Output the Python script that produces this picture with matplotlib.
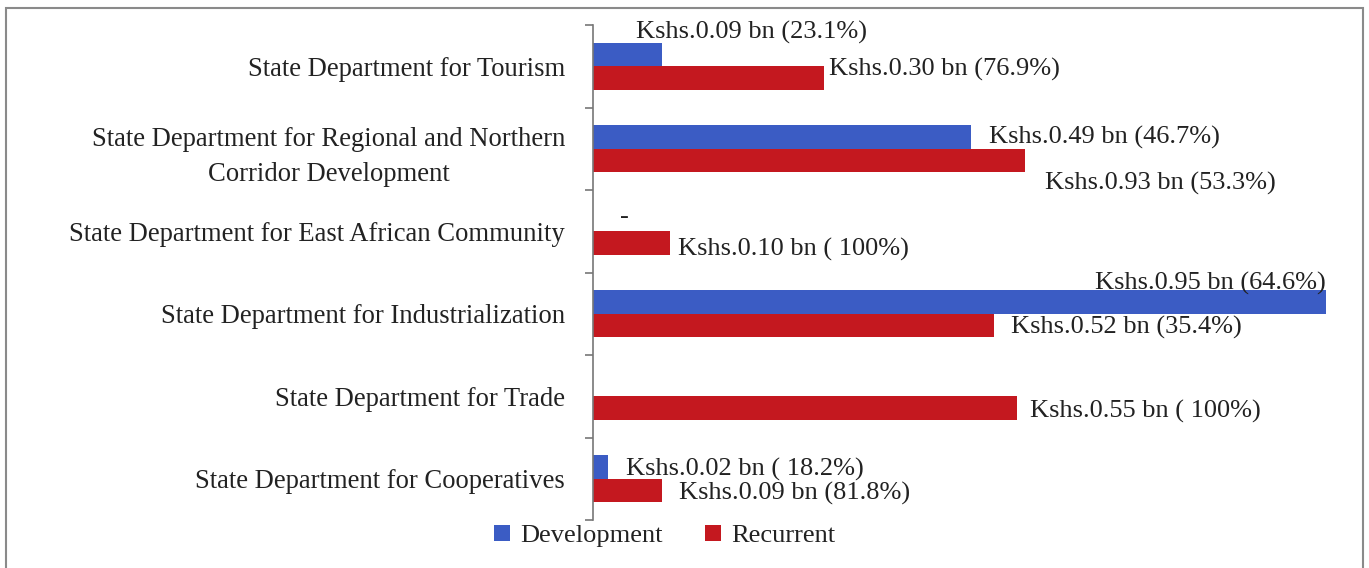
import matplotlib.pyplot as plt
import numpy as np
from matplotlib.patches import Rectangle

departments = [
    "State Department for Tourism",
    "State Department for Regional and Northern\nCorridor Development",
    "State Department for East African Community",
    "State Department for Industrialization",
    "State Department for Trade",
    "State Department for Cooperatives",
]
development = [0.09, 0.49, 0.0, 0.95, 0.0, 0.02]
recurrent = [0.30, 0.56, 0.10, 0.52, 0.55, 0.09]
dev_labels = ["Kshs.0.09 bn (23.1%)", "Kshs.0.49 bn (46.7%)", "-",
              "Kshs.0.95 bn (64.6%)", "", "Kshs.0.02 bn ( 18.2%)"]
rec_labels = ["Kshs.0.30 bn (76.9%)", "Kshs.0.93 bn (53.3%)", "Kshs.0.10 bn ( 100%)",
              "Kshs.0.52 bn (35.4%)", "Kshs.0.55 bn ( 100%)", "Kshs.0.09 bn (81.8%)"]

# label offsets in pixels (dx, dy) from bar end / bar centre
dev_off = [(-26, 22), (18, 0), (27, 2), (0, 19), (0, 0), (18, -2)]
rec_off = [(5, 9), (20, -23), (8, -6), (17, -2), (13, -3), (17, -3)]

blue = "#3b5cc4"
red = "#c4181f"
txt = "#222222"
font = "Liberation Serif"

fig = plt.figure(figsize=(13.69, 5.68), dpi=100)
fig.patches.append(Rectangle((6 / 1369, -0.1), 1357 / 1369, 1.1 - 8 / 568,
                             transform=fig.transFigure, fill=False,
                             edgecolor="#8a8a8a", linewidth=1.5))
ax = fig.add_axes([593 / 1369, 1 - 520 / 568, 771.6 / 1369, 495 / 568])

y = np.arange(len(departments))
h = 0.285
ax.barh(y - h / 2, development, height=h, color=blue, label="Development")
ax.barh(y + h / 2, recurrent, height=h, color=red, label="Recurrent")

ax.set_xlim(0, 1.0)
ax.set_ylim(len(departments) - 0.5, -0.5)
ax.set_yticks(y)
ax.set_yticklabels(departments, fontsize=19.2, family=font, color=txt,
                   multialignment="center", linespacing=1.55)
ax.set_yticks(np.arange(len(departments) + 1) - 0.5, minor=True)
ax.tick_params(axis="y", which="major", length=0, pad=20)
ax.tick_params(axis="y", which="minor", length=6, color="#777777", width=1.2)
ax.set_xticks([])
for s in ["top", "right", "bottom"]:
    ax.spines[s].set_visible(False)
ax.spines["left"].set_color("#777777")
ax.spines["left"].set_linewidth(1.2)

for i in range(len(departments)):
    if dev_labels[i]:
        dx, dy = dev_off[i]
        ha = "right" if i == 3 else "left"
        ax.annotate(dev_labels[i], (development[i], y[i] - h / 2),
                    xytext=(dx * 0.72, dy * 0.72), textcoords="offset points",
                    ha=ha, va="center", fontsize=19, family=font, color=txt)
    dx, dy = rec_off[i]
    ax.annotate(rec_labels[i], (recurrent[i], y[i] + h / 2),
                xytext=(dx * 0.72, dy * 0.72), textcoords="offset points",
                ha="left", va="center", fontsize=19, family=font, color=txt)

fig.legend(loc="center", bbox_to_anchor=(665 / 1369, 1 - 536 / 568), ncol=2,
           frameon=False, handlelength=0.6, handleheight=0.6, handletextpad=0.4,
           columnspacing=1.6, prop={"family": font, "size": 19})
for t in fig.legends[0].get_texts():
    t.set_color(txt)

fig.savefig("out.png", dpi=100)
